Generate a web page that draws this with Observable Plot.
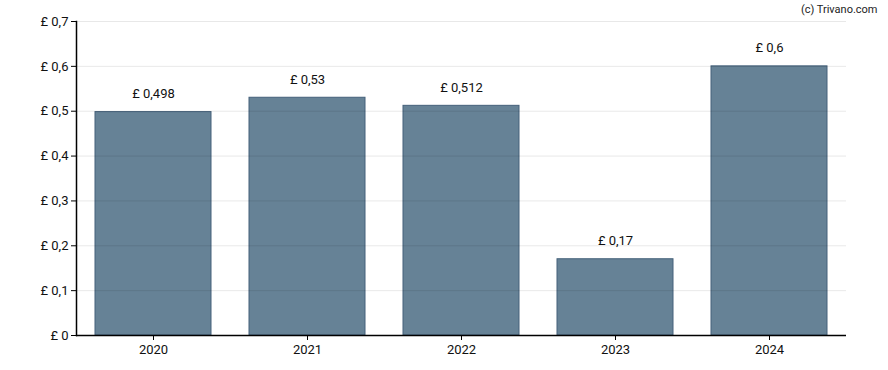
<!DOCTYPE html>
<html>
<head>
<meta charset="utf-8">
<script src="https://cdn.jsdelivr.net/npm/d3@7"></script>
<script src="https://cdn.jsdelivr.net/npm/@observablehq/plot@0.6"></script>
<style>
  html, body { margin: 0; padding: 0; background: #fff; }
  #chart { width: 888px; height: 370px; }
  svg { font-family: Roboto, "Liberation Sans", sans-serif; }
</style>
</head>
<body>
<div id="chart"></div>
<script>
const years = ["2020", "2021", "2022", "2023", "2024"];
const values = [0.498, 0.53, 0.512, 0.17, 0.6];
const labels = ["£ 0,498", "£ 0,53", "£ 0,512", "£ 0,17", "£ 0,6"];
const yTicks = [0, 0.1, 0.2, 0.3, 0.4, 0.5, 0.6, 0.7];
const credit = "(c) Trivano.com";

const data = years.map((y, i) => ({year: y, value: values[i], label: labels[i]}));
const fmt = v => v === 0 ? "£ 0" : "£ " + String(+v.toFixed(3)).replace(".", ",");

const chart = Plot.plot({
  width: 888,
  height: 370,
  marginLeft: 76,
  marginRight: 42,
  marginTop: 21,
  marginBottom: 35,
  style: {fontFamily: "Roboto, 'Liberation Sans', sans-serif", fontSize: "13px", color: "#111", background: "#fff"},
  x: {domain: years, paddingInner: 0.25, paddingOuter: 0.125, label: null},
  y: {domain: [0, 0.7], label: null},
  marks: [
    Plot.barY(data, {x: "year", y: "value", fill: "#668296", stroke: "#44607a", strokeWidth: 1}),
    Plot.gridY(yTicks, {stroke: "#000", strokeOpacity: 0.09, strokeWidth: 1}),
    Plot.axisY(yTicks, {tickFormat: fmt, tickSize: 5, tickPadding: 3, fontSize: 13, stroke: "#000", strokeOpacity: 1, label: null}),
    Plot.axisX({tickSize: 5, tickPadding: 4, fontSize: 13, stroke: "#000", strokeOpacity: 1, label: null}),
    Plot.ruleY([0], {stroke: "#000", strokeWidth: 1.5}),
    Plot.frame({anchor: "left", stroke: "#000", strokeWidth: 1.5}),
    Plot.text(data, {x: "year", y: "value", text: "label", lineAnchor: "bottom", dy: -14, fontSize: 13, fill: "#111"}),
    Plot.text([credit], {frameAnchor: "top-right", text: d => d, dx: 31, dy: -16, fontSize: 11, fill: "#222", textAnchor: "end"})
  ]
});
document.getElementById("chart").appendChild(chart);
</script>
</body>
</html>
